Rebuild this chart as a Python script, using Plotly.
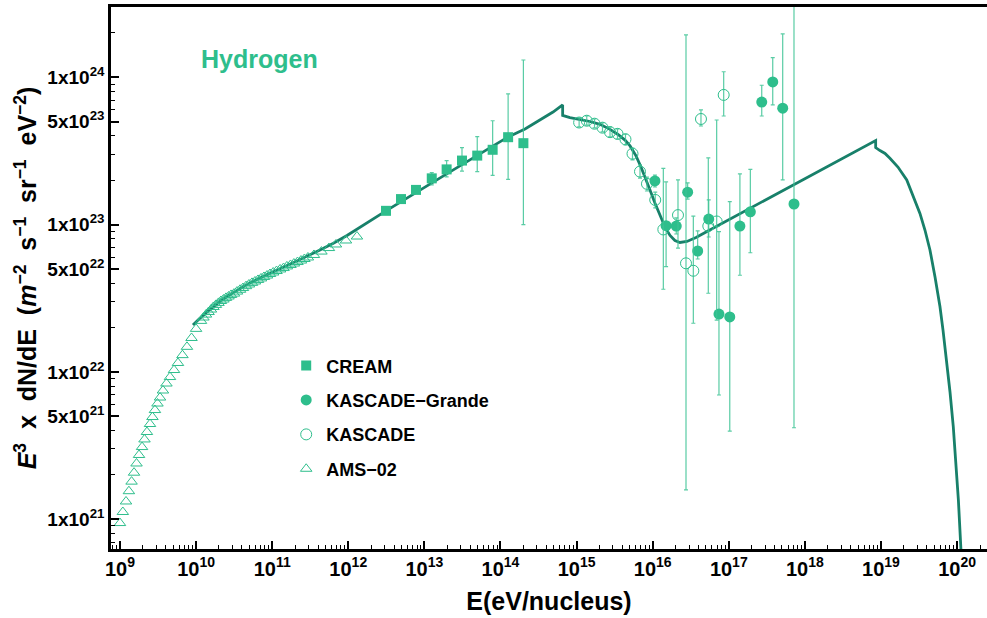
import numpy as np
import plotly.graph_objects as go

# ---------------- data ----------------
# AMS-02 (open triangles)
ams_E = [1.00e9, 1.09e9, 1.20e9, 1.31e9, 1.42e9, 1.53e9, 1.65e9, 1.78e9, 1.95e9, 2.10e9,
         2.26e9, 2.48e9, 2.67e9, 2.88e9, 3.11e9, 3.36e9, 3.67e9, 4.08e9, 4.54e9, 5.13e9,
         5.78e9, 6.62e9, 7.59e9, 8.71e9, 1.00e10, 1.16e10, 1.25e10, 1.35e10, 1.46e10, 1.57e10,
         1.69e10, 1.82e10, 1.97e10, 2.12e10, 2.29e10, 2.47e10, 2.67e10, 2.88e10, 3.15e10, 3.45e10,
         3.78e10, 4.13e10, 4.53e10, 4.95e10, 5.43e10, 5.94e10, 6.51e10, 7.13e10, 7.80e10, 8.55e10,
         9.36e10, 1.03e11, 1.14e11, 1.27e11, 1.41e11, 1.56e11, 1.74e11, 1.93e11, 2.15e11, 2.39e11,
         2.65e11, 2.95e11, 3.54e11, 4.44e11, 5.57e11, 6.89e11, 9.33e11, 1.30e12]
ams_F = [9.42e20, 1.12e21, 1.32e21, 1.55e21, 1.80e21, 2.07e21, 2.39e21, 2.73e21, 3.09e21, 3.48e21,
         3.91e21, 4.43e21, 4.94e21, 5.51e21, 6.10e21, 6.70e21, 7.48e21, 8.34e21, 9.23e21, 1.03e22,
         1.15e22, 1.30e22, 1.48e22, 1.70e22, 1.96e22, 2.22e22, 2.34e22, 2.45e22, 2.55e22, 2.65e22,
         2.76e22, 2.85e22, 2.94e22, 3.03e22, 3.10e22, 3.18e22, 3.25e22, 3.33e22, 3.40e22, 3.51e22,
         3.61e22, 3.71e22, 3.82e22, 3.92e22, 4.02e22, 4.11e22, 4.21e22, 4.31e22, 4.41e22, 4.51e22,
         4.62e22, 4.73e22, 4.84e22, 4.96e22, 5.07e22, 5.20e22, 5.32e22, 5.44e22, 5.57e22, 5.70e22,
         5.84e22, 5.98e22, 6.22e22, 6.56e22, 6.93e22, 7.33e22, 7.80e22, 8.30e22]

# CREAM (filled squares)
cream_E = [3.13e12, 4.93e12, 7.76e12, 1.25e13, 1.96e13, 3.12e13, 4.95e13, 7.89e13, 1.26e14, 2.00e14]
cream_F = [1.24e23, 1.49e23, 1.72e23, 2.06e23, 2.37e23, 2.72e23, 2.94e23, 3.22e23, 3.92e23, 3.57e23]
cream_hi = [1.28e23, 1.54e23, 1.80e23, 2.25e23, 2.72e23, 3.33e23, 3.95e23, 5.07e23, 7.71e23, 1.31e24]
cream_lo = [1.20e23, 1.44e23, 1.65e23, 1.86e23, 2.11e23, 2.31e23, 2.29e23, 2.16e23, 2.03e23, 1.00e23]

# KASCADE-Grande (filled circles)
kg_E = [1.07e16, 1.50e16, 2.04e16, 2.88e16, 3.90e16, 5.45e16, 7.43e16, 1.03e17, 1.40e17, 1.92e17,
        2.71e17, 3.78e17, 5.11e17, 7.19e17]
kg_F = [1.98e23, 9.84e22, 9.78e22, 1.66e23, 6.62e22, 1.09e23, 2.47e22, 2.36e22, 9.78e22, 1.22e23,
        6.79e23, 9.29e23, 6.17e23, 1.38e23]
kg_hi = [2.17e23, 1.95e23, 1.11e23, 1.92e23, 9.06e22, 1.47e23, 8.96e22, 1.43e23, 2.21e23, 2.37e23,
         8.83e23, 1.36e24, 1.97e24, 4.56e24]
kg_lo = [1.80e23, 5.18e22, 8.63e22, 1.49e23, 5.84e22, 8.24e22, 6.97e21, 3.97e21, 4.53e22, 6.44e22,
         5.46e23, 6.49e23, 2.01e23, 4.18e21]

# KASCADE (open circles)
k_E = [1.08e15, 1.36e15, 1.72e15, 2.19e15, 2.75e15, 3.45e15, 4.39e15, 5.43e15, 6.81e15, 8.41e15,
       1.08e16, 1.38e16, 2.15e16, 2.74e16, 3.42e16, 4.31e16, 5.38e16, 6.93e16, 8.57e16]
k_F = [4.93e23, 5.07e23, 4.84e23, 4.55e23, 4.24e23, 4.13e23, 3.79e23, 3.03e23, 2.29e23, 1.89e23,
       1.47e23, 9.27e22, 1.16e23, 5.46e22, 4.86e22, 5.21e23, 9.78e22, 1.05e23, 7.59e23]
k_hi = [5.30e23, 5.46e23, 5.21e23, 4.90e23, 4.60e23, 4.46e23, 4.12e23, 3.31e23, 2.54e23, 2.10e23,
        1.66e23, 2.41e23, 2.01e23, 1.94e24, 1.14e23, 6.00e23, 2.84e23, 5.13e23, 1.09e24]
k_lo = [4.60e23, 4.74e23, 4.53e23, 4.26e23, 3.94e23, 3.81e23, 3.47e23, 2.75e23, 2.07e23, 1.69e23,
        1.30e23, 3.64e22, 6.93e22, 1.58e21, 2.14e22, 4.67e23, 3.42e22, 2.25e22, 5.46e23]

# Model curve
model_E = [9.10e9, 1.12e10, 1.52e10, 2.06e10, 2.79e10, 3.78e10, 5.11e10, 6.92e10, 9.64e10, 1.47e11,
           2.32e11, 4.25e11, 6.29e11, 9.62e11, 3.13e12, 2.17e13, 1.26e14, 2.10e14, 3.30e14, 4.90e14,
           6.56e14, 6.56e14, 8.18e14, 1.11e15, 1.50e15, 2.03e15, 2.75e15, 3.50e15, 4.33e15, 5.04e15,
           6.04e15, 7.02e15, 8.17e15, 9.22e15, 1.07e16, 1.25e16, 1.45e16, 1.69e16, 1.96e16, 2.28e16,
           2.82e16, 3.71e16, 5.17e16, 8.51e18, 8.51e18, 9.70e18, 1.13e19, 1.31e19, 1.67e19, 2.18e19,
           2.63e19, 3.25e19, 3.78e19, 4.40e19, 5.13e19, 5.96e19, 6.53e19, 7.29e19, 8.07e19, 8.91e19,
           9.66e19, 1.04e20, 1.16e20]
model_F = [2.08e22, 2.31e22, 2.65e22, 3.01e22, 3.35e22, 3.68e22, 4.02e22, 4.34e22, 4.69e22, 5.20e22,
           5.79e22, 6.73e22, 7.45e22, 8.44e22, 1.24e23, 2.28e23, 3.94e23, 4.46e23, 5.13e23, 5.81e23,
           6.49e23, 5.51e23, 5.33e23, 5.17e23, 5.01e23, 4.79e23, 4.43e23, 4.09e23, 3.75e23, 3.42e23,
           2.93e23, 2.46e23, 2.04e23, 1.72e23, 1.40e23, 1.15e23, 9.64e22, 8.44e22, 7.80e22, 7.56e22,
           7.68e22, 8.17e22, 8.98e22, 3.72e23, 3.33e23, 3.18e23, 3.04e23, 2.82e23, 2.46e23, 2.01e23,
           1.59e23, 1.19e23, 9.19e22, 6.73e22, 4.41e22, 2.77e22, 1.92e22, 1.21e22, 7.31e21, 4.25e21,
           2.44e21, 1.35e21, 4.52e20]

# Tick labels
x_tickvals = [1e9, 1e10, 1e11, 1e12, 1e13, 1e14, 1e15, 1e16, 1e17, 1e18, 1e19, 1e20]
x_ticktext = ["10<sup>%d</sup>" % n for n in range(9, 21)]
y_tickvals = [1e21, 5e21, 1e22, 5e22, 1e23, 5e23, 1e24]
y_ticktext = ["1x10<sup>21</sup>", "5x10<sup>21</sup>", "1x10<sup>22</sup>", "5x10<sup>22</sup>",
              "1x10<sup>23</sup>", "5x10<sup>23</sup>", "1x10<sup>24</sup>"]

# ---------------- style ----------------
GREEN = "rgb(46,190,140)"
ERR = "rgba(60,195,148,0.85)"
LINE = "rgb(24,128,106)"
FONT = "Liberation Sans, Arial, Helvetica, sans-serif"
SP = "\u00a0"


def errs(y, hi, lo):
    y = np.array(y); hi = np.array(hi); lo = np.array(lo)
    return hi - y, y - lo


fig = go.Figure()

fig.add_trace(go.Scatter(x=model_E, y=model_F, mode="lines", showlegend=False,
                         line=dict(color=LINE, width=2.8), hoverinfo="skip"))

cp, cm = errs(cream_F, cream_hi, cream_lo)
fig.add_trace(go.Scatter(x=cream_E, y=cream_F, mode="markers", name="CREAM", legendgroup="a",
                         marker=dict(symbol="square", size=10, color=GREEN),
                         error_y=dict(type="data", symmetric=False, array=cp, arrayminus=cm,
                                      color=ERR, thickness=1.2, width=2)))

gp, gm = errs(kg_F, kg_hi, kg_lo)
fig.add_trace(go.Scatter(x=kg_E, y=kg_F, mode="markers", name="KASCADE\u2212Grande", legendgroup="b",
                         marker=dict(symbol="circle", size=11, color=GREEN),
                         error_y=dict(type="data", symmetric=False, array=gp, arrayminus=gm,
                                      color=ERR, thickness=1.2, width=2)))

kp, km = errs(k_F, k_hi, k_lo)
fig.add_trace(go.Scatter(x=k_E, y=k_F, mode="markers", name="KASCADE", legendgroup="c",
                         marker=dict(symbol="circle-open", size=11, color=GREEN, line=dict(width=1)),
                         error_y=dict(type="data", symmetric=False, array=kp, arrayminus=km,
                                      color=ERR, thickness=1.2, width=2)))

fig.add_trace(go.Scatter(x=ams_E, y=ams_F, mode="markers", name="AMS\u221202", legendgroup="d",
                         marker=dict(symbol="triangle-up-open", size=10, color=GREEN,
                                     line=dict(width=1))))

minor_x = [d * 10.0 ** n for n in range(8, 21) for d in range(2, 10)]
minor_y = [d * 10.0 ** n for n in range(20, 25) for d in (2, 3, 4, 6, 7, 8, 9)]

ytitle = ("<i>E</i><sup>3</sup>" + SP + "x" + SP + "dN/dE" + SP + "(<i>m</i><sup>\u22122</sup>" + SP +
          "s<sup>\u22121</sup>" + SP + "sr<sup>\u22121</sup>" + SP + "eV<sup>\u22122</sup>)")
ytitle = ytitle.replace(SP, SP + SP)

fig.update_xaxes(type="log", range=[8.882, 20.393], showline=True, linecolor="black", linewidth=2.5,
                 mirror=True, ticks="inside", ticklen=8, tickwidth=1.5, tickcolor="black",
                 tickmode="array", tickvals=x_tickvals, ticktext=x_ticktext,
                 tickfont=dict(family=FONT, size=20, color="black", weight="bold"),
                 showgrid=False, zeroline=False,
                 minor=dict(tickmode="array", tickvals=minor_x, ticks="inside", ticklen=4,
                            tickwidth=1.2, tickcolor="black", showgrid=False),
                 title=dict(text="E(eV/nucleus)", font=dict(family=FONT, size=25, color="black",
                                                             weight="bold"), standoff=14))

fig.update_yaxes(type="log", range=[20.798, 24.477], showline=True, linecolor="black", linewidth=2.5,
                 ticks="inside", ticklen=8, tickwidth=1.5, tickcolor="black",
                 tickmode="array", tickvals=y_tickvals, ticktext=y_ticktext,
                 tickfont=dict(family=FONT, size=19, color="black", weight="bold"),
                 showgrid=False, zeroline=False,
                 minor=dict(tickmode="array", tickvals=minor_y, ticks="inside", ticklen=4,
                            tickwidth=1.2, tickcolor="black", showgrid=False),
                 title=dict(text=ytitle,
                            font=dict(family=FONT, size=25, color="black", weight="bold"), standoff=4))

fig.add_annotation(text="Hydrogen", xref="paper", yref="paper", x=0.169, y=0.904,
                   xanchor="center", yanchor="middle",
                   showarrow=False, font=dict(family=FONT, size=25, color=GREEN, weight="bold"))

fig.update_layout(width=987, height=618, margin=dict(l=111, r=0, t=7, b=69),
                  plot_bgcolor="white", paper_bgcolor="white",
                  legend=dict(x=0.2, y=0.372, xanchor="left", yanchor="top",
                              font=dict(family=FONT, size=18, color="black", weight="bold"),
                              tracegroupgap=8, bgcolor="rgba(0,0,0,0)"),
                  showlegend=True)

fig.write_html("out.html")
